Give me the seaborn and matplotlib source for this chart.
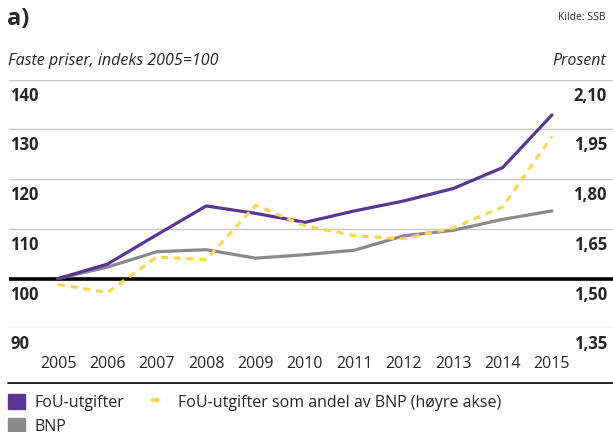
import matplotlib
matplotlib.use("Agg")
import matplotlib.pyplot as plt
import matplotlib.transforms as mtransforms
from matplotlib.lines import Line2D
from matplotlib.patches import Patch
import pandas as pd
import seaborn as sns

# values
years = [2005, 2006, 2007, 2008, 2009, 2010, 2011, 2012, 2013, 2014, 2015]
fou = [100, 102.9, 108.8, 114.6, 113.1, 111.3, 113.6, 115.6, 118.1, 122.3, 132.9]
bnp = [100, 102.3, 105.4, 105.8, 104.1, 104.8, 105.7, 108.6, 109.7, 111.9, 113.6]
andel = [1.482, 1.458, 1.565, 1.557, 1.721, 1.659, 1.629, 1.620, 1.653, 1.716, 1.929]

left_ticks = [90, 100, 110, 120, 130, 140]
right_labels = ["1,35", "1,50", "1,65", "1,80", "1,95", "2,10"]

PURPLE = "#5b3593"
GREY = "#8a8a8a"
YELLOW = "#ffd54f"

sns.set_theme(style="white")
plt.rcParams["font.family"] = ["Open Sans", "DejaVu Sans"]

df = pd.DataFrame({"year": years, "fou": fou, "bnp": bnp, "andel": andel})

W, H = 613, 432
fig = plt.figure(figsize=(W / 100, H / 100), dpi=100)
ax = fig.add_axes([9 / W, 1 - 328.3 / H, 604 / W, (328.3 - 79.6) / H])

sns.lineplot(data=df, x="year", y="bnp", ax=ax, color=GREY, lw=2.3)
sns.lineplot(data=df, x="year", y="fou", ax=ax, color=PURPLE, lw=2.3)
ax.axhline(100, color="black", lw=2.6, zorder=1)

ax.set_xlim(2004.008, 2016.235)
ax.set_ylim(90, 140)
ax.set_yticks(left_ticks)
ax.set_yticklabels([])
ax.tick_params(axis="y", length=0)
ax.grid(axis="y", color="#c6c6c6", lw=1)
ax.grid(axis="x", visible=False)
ax.set_xticks(years)
ax.set_xticklabels([str(y) for y in years], fontsize=11.5)
ax.tick_params(axis="x", length=0, pad=20)
ax.set_xlabel("")
ax.set_ylabel("")
for s in ax.spines.values():
    s.set_visible(False)

ax2 = ax.twinx()
sns.lineplot(data=df, x="year", y="andel", ax=ax2, color=YELLOW, lw=2.3,
             dashes=False, linestyle=(0, (2.2, 1.8)))
ax2.set_ylim(1.35, 2.10)
ax2.set_yticks([])
ax2.set_ylabel("")
for s in ax2.spines.values():
    s.set_visible(False)

# tick labels sitting just below each gridline
off = mtransforms.ScaledTranslation(0, -7 / 100, fig.dpi_scale_trans)
trans = mtransforms.blended_transform_factory(ax.transAxes, ax.transData) + off
for v, rl in zip(left_ticks, right_labels):
    ax.text(0.002, v, str(v), transform=trans, ha="left", va="top",
            fontsize=12, fontweight="bold")
    ax.text(0.99, v, rl, transform=trans, ha="right", va="top",
            fontsize=12, fontweight="bold")

# header
fig.text(7 / W, 1 - 19 / H, "a)", fontsize=17, fontweight="bold", va="center")
fig.text(606 / W, 1 - 17 / H, "Kilde: SSB", fontsize=7.5, ha="right", va="center")
fig.text(8 / W, 1 - 61 / H, "Faste priser, indeks 2005=100", fontsize=11.5,
         style="italic", va="center")
fig.text(606 / W, 1 - 61 / H, "Prosent", fontsize=11.5, style="italic",
         ha="right", va="center")

fig.add_artist(Line2D([8 / W, 1], [1 - 383 / H, 1 - 383 / H], color="black", lw=1.2))

handles = [
    Patch(color=PURPLE, label="FoU-utgifter"),
    Patch(color=GREY, label="BNP"),
    Line2D([0], [0], color=YELLOW, lw=3, linestyle=(0, (2.0, 2.0)),
           label="FoU-utgifter som andel av BNP (høyre akse)"),
]
fig.legend(handles=handles, ncol=2, loc="upper left",
           bbox_to_anchor=(8 / W, 1 - 394 / H), frameon=False, fontsize=11.5,
           handlelength=1.05, handleheight=1.05, handletextpad=0.6,
           columnspacing=1.7, labelspacing=0.45, borderpad=0, borderaxespad=0)

fig.savefig("out.png", dpi=100)
